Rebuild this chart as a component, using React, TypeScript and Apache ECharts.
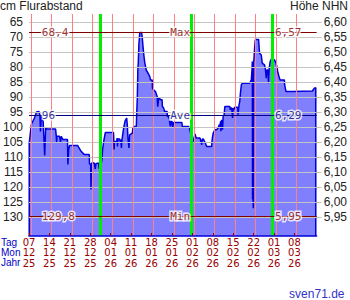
import React, { useEffect, useRef } from "react";
import * as echarts from "echarts";

// ---------- data ----------
const START_DATE_UTC = Date.UTC(2025, 11, 7); // day 0 = 07.12.2025
const NHN_ZERO_M = 7.25; // Höhe NHN = NHN_ZERO_M - cm / 100

// [day offset from 07.12.2025, Flurabstand in cm]
const pegel: [number, number][] = [
  [0.07, 105.4], [0.51, 101.4], [0.85, 98.9], [1.36, 97.9], [1.87, 96.9], [2.55, 94.9], [3.4, 94.7],
  [3.74, 95.9], [3.91, 101.4], [4.25, 96.4], [4.83, 97.9], [5.37, 109.4], [5.71, 100.1], [6.19, 100.6],
  [9.11, 100.6], [9.35, 103.0], [9.45, 105.0], [9.59, 103.0], [10.47, 103.0], [10.81, 104.9], [11.05, 103.0],
  [11.62, 104.1], [13.19, 104.1], [13.32, 112.4], [13.6, 107.4], [13.87, 106.1], [16.72, 106.1], [17.0, 106.6],
  [17.85, 108.0], [18.97, 109.1], [20.65, 109.1], [20.72, 112.2], [21.12, 112.2], [21.24, 120.7], [21.48, 111.9],
  [22.37, 111.9], [22.71, 113.9], [22.94, 112.1], [23.79, 111.9], [24.07, 113.9], [24.3, 110.9], [24.64, 112.9],
  [24.98, 110.7], [25.22, 107.4], [25.66, 104.4], [26.17, 101.7], [28.96, 101.7],
  [29.06, 104.1], [29.16, 107.4], [29.3, 104.7], [30.08, 104.7], [30.18, 103.6], [30.32, 106.4], [30.52, 103.9],
  [31.1, 103.9], [31.2, 104.7], [31.44, 104.1], [31.68, 106.9], [31.88, 104.1], [32.12, 104.1], [32.36, 100.8],
  [32.56, 99.7], [32.9, 98.0], [33.14, 97.5], [33.48, 96.9], [33.72, 99.7], [33.92, 103.6], [34.26, 106.9],
  [34.5, 102.5], [35.42, 101.9], [35.62, 100.2], [35.96, 99.7], [36.78, 99.7], [36.88, 96.4], [37.12, 90.3],
  [37.32, 80.3], [37.46, 78.6], [37.66, 72.5], [37.91, 69.2], [38.01, 68.4], [38.59, 68.4], [38.82, 70.1],
  [39.02, 72.5], [39.36, 75.9], [39.7, 78.6], [40.18, 80.9], [40.86, 82.0], [41.4, 83.1], [41.64, 84.2],
  [42.22, 84.2], [42.32, 87.0], [42.76, 87.6], [43.34, 88.1], [43.92, 89.7], [44.12, 93.1], [44.46, 90.3],
  [44.8, 90.3], [45.04, 90.8], [45.62, 90.8], [45.72, 93.1], [46.16, 93.6], [46.5, 94.7], [47.32, 94.7],
  [47.42, 96.4], [47.86, 96.4], [48.1, 97.5], [48.44, 99.7], [48.68, 98.0], [49.01, 98.0], [49.22, 100.2],
  [49.56, 98.4], [52.41, 98.4], [52.52, 99.7], [54.66, 99.7], [55.0, 100.2], [55.4, 101.9], [55.81, 103.6],
  [56.15, 105.2], [56.43, 104.1], [56.7, 103.0], [56.93, 102.2], [57.27, 103.6], [58.63, 103.6], [59.21, 105.8],
  [59.41, 103.9], [59.75, 103.9], [60.33, 105.0], [60.67, 105.8], [60.91, 106.4], [62.61, 106.4], [62.78, 104.1],
  [62.95, 103.0], [63.16, 101.9], [63.74, 100.8], [64.31, 100.8], [64.85, 100.2], [65.19, 99.1], [65.43, 99.7],
  [65.67, 98.0], [65.77, 101.3], [66.01, 97.5], [66.35, 100.8], [66.55, 96.4], [66.89, 95.8], [67.13, 93.1],
  [68.83, 93.1], [69.0, 94.2], [69.17, 93.6], [69.51, 93.6], [69.75, 96.9], [69.95, 93.6], [70.19, 94.2],
  [70.53, 93.3], [71.55, 93.3], [71.65, 95.8], [71.99, 92.5], [72.23, 91.4], [72.47, 88.6], [72.81, 85.8],
  [73.15, 85.3], [75.63, 85.3], [75.97, 84.7], [76.21, 84.2], [76.41, 81.4], [76.55, 78.1], [76.62, 124.0],
  [76.72, 78.1], [76.8, 124.0], [76.88, 127.0], [76.95, 78.1], [77.09, 77.5], [77.33, 73.6], [77.57, 70.9],
  [77.91, 70.7], [78.69, 70.7], [78.79, 72.0], [79.03, 75.3], [79.61, 75.9], [79.95, 78.6], [80.73, 79.2],
  [81.07, 80.9], [81.31, 83.6], [81.51, 80.9], [81.85, 80.9], [82.09, 85.3], [82.32, 80.4], [82.67, 78.1],
  [83.35, 76.7], [83.62, 76.3], [83.79, 77.5], [84.13, 77.5], [84.7, 78.6], [85.25, 81.4], [85.83, 83.6],
  [86.06, 84.2], [87.53, 84.2], [87.63, 85.8], [87.87, 87.0], [88.11, 88.1], [90.35, 88.1], [90.46, 87.9],
  [97.15, 87.9], [97.49, 87.4], [97.83, 87.0], [98.3, 86.8],
];

const maxCm = 68.4;
const aveCm = 95.9;
const minCm = 129.8;

const cmTicks = [65, 70, 75, 80, 85, 90, 95, 100, 105, 110, 115, 120, 125, 130];
const nhnTicks = [5.95, 6.0, 6.05, 6.1, 6.15, 6.2, 6.25, 6.3, 6.35, 6.4, 6.45, 6.5, 6.55, 6.6];
const dateTickDays = [0, 7, 14, 21, 28, 35, 42, 49, 56, 63, 70, 77, 84, 91];
const monthStartDays = [25, 56, 84];
const rowNames = ["Tag", "Mon", "Jahr"];

// ---------- layout constants ----------
const Y_TOP_CM = 62.23;
const Y_BOTTOM_CM = 136.23;
const X_MAX_DAY = 98.6;
const WEEK_LINE_SHIFT = 0.65;
const MONTH_LINE_SHIFT = -0.45;
const LABEL_DAY_LEFT = 4.4;
const LABEL_DAY_MID = 51.8;
const LABEL_DAY_RIGHT = 84.3;
const DATE_LINE_H = 10.3;

const pad2 = (n: number) => (n < 10 ? "0" + n : String(n));
const dateLabel = (d: number) => {
  const dt = new Date(START_DATE_UTC + Math.round(d) * 86400000);
  return `${pad2(dt.getUTCDate())}\n${pad2(dt.getUTCMonth() + 1)}\n${pad2(dt.getUTCFullYear() % 100)}`;
};
const comma = (s: string) => s.replace(".", ",");
const nhnOf = (cm: number) => comma((NHN_ZERO_M - cm / 100).toFixed(2));

export default function App() {
  const ref = useRef<HTMLDivElement>(null);

  useEffect(() => {
    if (!ref.current) return;
    document.body.style.margin = "0";
    const chart = echarts.init(ref.current, null, { renderer: "svg" });

    const outline: [number, number][] = [
      [pegel[0][0], Y_BOTTOM_CM],
      ...pegel,
      [pegel[pegel.length - 1][0], Y_BOTTOM_CM],
    ];

    const noSym = ["none", "none"];
    const gridLines: any[] = [
      ...cmTicks.map((v) => ({ yAxis: v, lineStyle: { color: "#c4c4c4", width: 1, type: "solid" } })),
      ...dateTickDays.map((d) => ({
        xAxis: d + WEEK_LINE_SHIFT,
        lineStyle: { color: "#ff8080", width: 1, type: "solid" },
      })),
      ...monthStartDays.map((d) => ({
        xAxis: d + MONTH_LINE_SHIFT,
        lineStyle: { color: "#00ee00", width: 3, type: "solid" },
      })),
    ];

    const stats = [
      { cm: maxCm, left: comma(maxCm.toFixed(1)), mid: "Max", color: "#800000" },
      { cm: aveCm, left: String(Math.round(aveCm)), mid: "Ave", color: "#000080" },
      { cm: minCm, left: comma(minCm.toFixed(1)), mid: "Min", color: "#800000" },
    ];

    const labelItems: any[] = [];
    stats.forEach((s) => {
      const texts: [number, string, string][] = [
        [LABEL_DAY_LEFT, s.left, "left"],
        [LABEL_DAY_MID, s.mid, "center"],
        [LABEL_DAY_RIGHT, nhnOf(s.cm), "left"],
      ];
      texts.forEach(([d, t, al]) =>
        labelItems.push({
          value: [d, s.cm, t],
          label: { align: al, color: s.color },
        })
      );
    });

    const textStyle = (text: string, fill: string, size: number) => ({
      text,
      fill,
      font: `${size}px "Liberation Sans", Arial, sans-serif`,
    });

    const option: any = {
      animation: false,
      grid: { left: 27.6, right: 32.7, top: 14, bottom: 64, containLabel: false },
      xAxis: {
        type: "value",
        min: 0,
        max: X_MAX_DAY,
        z: 6,
        axisLine: { show: true, lineStyle: { color: "#0000dd", width: 1.5 } },
        axisTick: {
          show: true,
          customValues: dateTickDays,
          inside: true,
          length: 3,
          lineStyle: { color: "#990000", width: 1 },
        },
        axisLabel: {
          customValues: dateTickDays,
          formatter: (v: number) => dateLabel(v),
          color: "#990000",
          fontFamily: "DejaVu Sans",
          fontSize: 10,
          lineHeight: DATE_LINE_H,
          margin: 1.5,
        },
        splitLine: { show: false },
      },
      yAxis: [
        {
          type: "value",
          inverse: true,
          min: Y_TOP_CM,
          max: Y_BOTTOM_CM,
          axisLine: { show: false },
          axisTick: { show: false },
          splitLine: { show: false },
          axisLabel: {
            customValues: cmTicks,
            color: "#222",
            fontFamily: "Liberation Sans",
            fontSize: 12,
            margin: 6,
          },
        },
        {
          type: "value",
          position: "right",
          min: NHN_ZERO_M - Y_BOTTOM_CM / 100,
          max: NHN_ZERO_M - Y_TOP_CM / 100,
          axisLine: { show: false },
          splitLine: { show: false },
          axisTick: {
            show: true,
            customValues: nhnTicks,
            length: 5,
            lineStyle: { color: "#c4c4c4", width: 1 },
          },
          axisLabel: {
            customValues: nhnTicks,
            formatter: (v: number) => comma(v.toFixed(2)),
            color: "#222",
            fontFamily: "Liberation Sans",
            fontSize: 12,
            margin: 7,
          },
        },
      ],
      series: [
        {
          name: "fill",
          type: "line",
          data: outline,
          showSymbol: false,
          silent: true,
          z: 1,
          lineStyle: { width: 0, opacity: 0 },
          areaStyle: { color: "#8080ff", opacity: 1, origin: "end" },
        },
        {
          name: "grid",
          type: "line",
          data: outline,
          showSymbol: false,
          silent: true,
          z: 2,
          lineStyle: { opacity: 0, width: 0 },
          markLine: {
            silent: true,
            symbol: noSym,
            label: { show: false },
            data: gridLines,
          },
        },
        {
          name: "stroke",
          type: "line",
          data: outline,
          showSymbol: false,
          silent: true,
          z: 3,
          lineStyle: { color: "#0000dd", width: 1.5 },
        },
        {
          name: "stats",
          type: "line",
          data: outline,
          showSymbol: false,
          silent: true,
          z: 4,
          lineStyle: { opacity: 0, width: 0 },
          markLine: {
            silent: true,
            symbol: noSym,
            label: { show: false },
            data: stats.map((s) => ({ yAxis: s.cm, lineStyle: { color: s.color, width: 1.2, type: "solid" } })),
          },
        },
        {
          name: "labels",
          type: "scatter",
          data: labelItems,
          symbol: "circle",
          symbolSize: 0.1,
          itemStyle: { color: "transparent" },
          silent: true,
          z: 5,
          label: {
            show: true,
            position: "inside",
            formatter: (p: any) => p.value[2],
            fontFamily: "DejaVu Sans Mono",
            fontSize: 11,
            verticalAlign: "middle",
            textBorderColor: "#ffffff",
            textBorderWidth: 3,
          },
        },
      ],
      graphic: {
        elements: [
          { type: "text", left: 0, top: 0, style: textStyle("cm Flurabstand", "#222", 12) },
          { type: "text", right: 2, top: 0, style: textStyle("Höhe NHN", "#222", 12) },
          ...rowNames.map((t, i) => ({
            type: "text",
            left: 1,
            top: 237 + i * DATE_LINE_H,
            style: textStyle(t, "#0000cc", 10),
          })),
          { type: "text", right: 5.5, top: 287.5, style: textStyle("sven71.de", "#3333cc", 12) },
        ],
      },
    };

    chart.setOption(option);
    return () => {
      chart.dispose();
    };
  }, []);

  return (
    <div
      ref={ref}
      style={{ position: "absolute", left: 0, top: 0, width: 350, height: 300 }}
    />
  );
}
